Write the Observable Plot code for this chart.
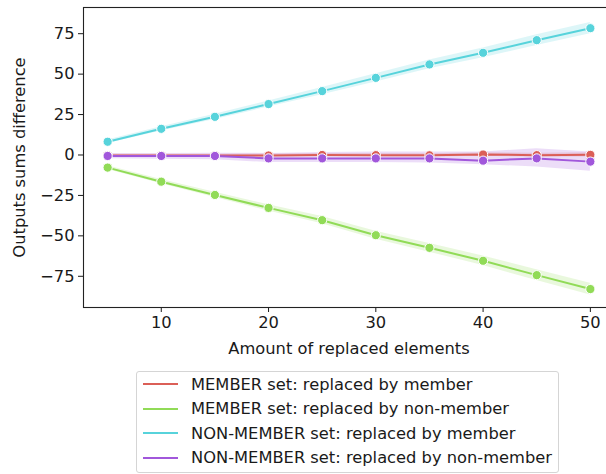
<!DOCTYPE html>
<html>
<head>
<meta charset="utf-8">
<script src="https://cdn.jsdelivr.net/npm/d3@7"></script>
<script src="https://cdn.jsdelivr.net/npm/@observablehq/plot@0.6"></script>
<style>
  html, body { margin: 0; padding: 0; background: #fff; overflow: hidden; }
  body { width: 606px; height: 474px; font-family: "DejaVu Sans", sans-serif; }
  #chart svg { overflow: hidden; }
  #legend {
    position: absolute; left: 136px; top: 371px; width: 421px; height: 100px;
    border: 1px solid #d5d5d5; border-radius: 3px; box-sizing: content-box;
    font-size: 16.3px; color: #1a1a1a; background: #fff;
  }
  .row { height: 24.5px; display: flex; align-items: center; }
  .swatch { width: 35px; height: 2px; margin-left: 6px; margin-right: 13px; }
</style>
</head>
<body>
<div id="chart"></div>
<div id="legend"></div>
<script>
const xs = [5, 10, 15, 20, 25, 30, 35, 40, 45, 50];
const seriesNames = [
  "MEMBER set: replaced by member",
  "MEMBER set: replaced by non-member",
  "NON-MEMBER set: replaced by member",
  "NON-MEMBER set: replaced by non-member"
];
const colors = ["#db5f57", "#91db57", "#57d3db", "#a157db"];

// means
const memberByMember = [-0.3, -0.3, -0.3, -0.3, 0.0, -0.1, -0.2, 0.3, -0.1, 0.1];
const memberByNon = [-7.8, -16.5, -24.7, -32.7, -40.3, -49.6, -57.4, -65.4, -74.3, -82.9];
const nonByMember = [8.2, 16.2, 23.6, 31.5, 39.5, 47.7, 56.0, 63.2, 71.0, 78.4];
const nonByNon = [-0.6, -0.6, -0.6, -2.1, -2.1, -2.1, -2.1, -3.5, -2.1, -4.1];

// confidence bands (lower, upper)
const memberByMemberLo = [-1.0, -1.1, -1.1, -1.2, -1.0, -1.1, -1.2, -0.8, -1.3, -1.2];
const memberByMemberHi = [0.4, 0.5, 0.5, 0.6, 0.9, 0.9, 0.8, 1.4, 1.1, 1.4];
const memberByNonLo = [-8.9, -17.8, -26.3, -34.6, -42.5, -52.1, -60.1, -68.4, -77.6, -86.5];
const memberByNonHi = [-6.7, -15.2, -23.1, -30.8, -38.1, -47.1, -54.7, -62.4, -71.0, -79.3];
const nonByMemberLo = [7.1, 14.9, 22.0, 29.6, 37.3, 45.2, 53.3, 60.2, 67.7, 74.9];
const nonByMemberHi = [9.3, 17.5, 25.2, 33.4, 41.7, 50.2, 58.7, 66.2, 74.3, 81.9];
const nonByNonLo = [-2.3, -2.6, -3.0, -4.7, -4.7, -4.7, -5.0, -6.0, -7.5, -10.0];
const nonByNonHi = [0.9, 1.0, 1.1, 1.0, 1.5, 1.9, 1.9, 1.9, 3.9, 1.9];

const xTicks = [10, 20, 30, 40, 50];
const yTicks = [-75, -50, -25, 0, 25, 50, 75];

const means = [memberByMember, memberByNon, nonByMember, nonByNon];
const los = [memberByMemberLo, memberByNonLo, nonByMemberLo, nonByNonLo];
const his = [memberByMemberHi, memberByNonHi, nonByMemberHi, nonByNonHi];

const rows = [];
seriesNames.forEach((s, i) => xs.forEach((x, j) => rows.push({
  series: s, x, y: means[i][j], lo: los[i][j], hi: his[i][j]
})));

const marks = [];
seriesNames.forEach((s, i) => {
  const d = rows.filter(r => r.series === s);
  marks.push(Plot.areaY(d, {x: "x", y1: "lo", y2: "hi", fill: colors[i], fillOpacity: 0.2}));
});
seriesNames.forEach((s, i) => {
  const d = rows.filter(r => r.series === s);
  marks.push(Plot.line(d, {x: "x", y: "y", stroke: colors[i], strokeWidth: 2}));
  marks.push(Plot.dot(d, {x: "x", y: "y", fill: colors[i], stroke: "white", strokeWidth: 1, r: 4.6}));
});
marks.push(Plot.frame({stroke: "#222", strokeWidth: 1.1}));

const chart = Plot.plot({
  width: 606,
  height: 365,
  marginLeft: 83,
  marginRight: -8,
  marginTop: 7,
  marginBottom: 58,
  style: {fontFamily: "DejaVu Sans, sans-serif", fontSize: "16.3px", color: "#1a1a1a", background: "white"},
  x: {domain: [2.75, 52.25], ticks: xTicks, tickSize: 5, tickPadding: 4,
      label: "Amount of replaced elements", labelAnchor: "center", labelArrow: "none", labelOffset: 46},
  y: {domain: [-94.3, 91.2], ticks: yTicks, tickSize: 5, tickPadding: 4,
      label: "Outputs sums difference", labelAnchor: "center", labelArrow: "none", labelOffset: 70},
  marks
});
document.getElementById("chart").appendChild(chart);

const legend = document.getElementById("legend");
seriesNames.forEach((s, i) => {
  const row = document.createElement("div");
  row.className = "row";
  const sw = document.createElement("div");
  sw.className = "swatch";
  sw.style.background = colors[i];
  const t = document.createElement("span");
  t.textContent = s;
  row.appendChild(sw);
  row.appendChild(t);
  legend.appendChild(row);
});
</script>
</body>
</html>
